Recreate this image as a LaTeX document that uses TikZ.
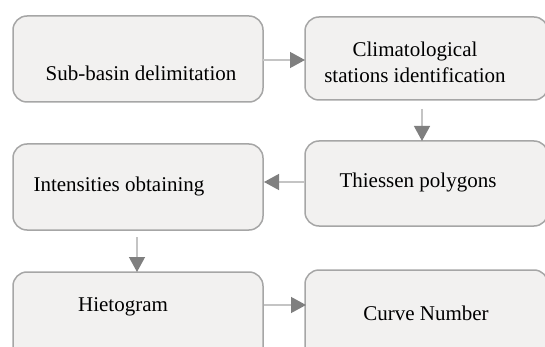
\documentclass[tikz,border=0pt]{standalone}
\usepackage{fontspec}
\setmainfont{Liberation Serif}
\usetikzlibrary{arrows.meta}
\definecolor{boxfill}{HTML}{F2F1F0}
\definecolor{boxline}{HTML}{A6A6A6}
\definecolor{arrline}{HTML}{C4C4C4}
\definecolor{arrhead}{HTML}{7F7F7F}
\tikzset{
  flowbox/.style={draw=boxline, fill=boxfill, line width=1.5pt, rounded corners=14pt},
  lbl/.style={font=\fontsize{21}{26}\selectfont, inner sep=0pt, align=center, text=black},
  flowarrow/.style={draw=arrline, line width=1.3pt, -{Triangle[length=15pt, width=16pt, color=arrhead]}}
}
\begin{document}
\begin{tikzpicture}[x=1pt, y=-1pt]
\useasboundingbox (0,0) rectangle (545,347);
\begin{scope}
\clip (0,0) rectangle (545,347);
\path[flowbox] (13,16) rectangle (263,102);
\path[flowbox] (305,17) rectangle (548,100);
\path[flowbox] (13,144) rectangle (263,230);
\path[flowbox] (305,141) rectangle (548,226);
\path[flowbox] (13,272) rectangle (263,375);
\path[flowbox] (305,270) rectangle (548,375);
\end{scope}
\coordinate (b1e) at (263,60);
\coordinate (b2w) at (305,60);
\coordinate (b2s) at (422,109);
\coordinate (b4n) at (422,141);
\coordinate (b4w) at (305,182);
\coordinate (b3e) at (264,182);
\coordinate (b3s) at (137,237);
\coordinate (b5n) at (137,272);
\coordinate (b5e) at (264,305);
\coordinate (b6w) at (306,305);
\node[lbl] (t1) at (141,73) {Sub-basin delimitation};
\node[lbl] (t2) at (415,62) {Climatological\\stations identification};
\node[lbl] (t3) at (119,186) {Intensities obtaining};
\node[lbl] (t4) at (418,182) {Thiessen polygons};
\node[lbl] (t5) at (123,307) {Hietogram};
\node[lbl] (t6) at (426,313) {Curve Number};
\draw[flowarrow] (b1e) -- (b2w);
\draw[flowarrow] (b2s) -- (b4n);
\draw[flowarrow] (b4w) -- (b3e);
\draw[flowarrow] (b3s) -- (b5n);
\draw[flowarrow] (b5e) -- (b6w);
\end{tikzpicture}
\end{document}
